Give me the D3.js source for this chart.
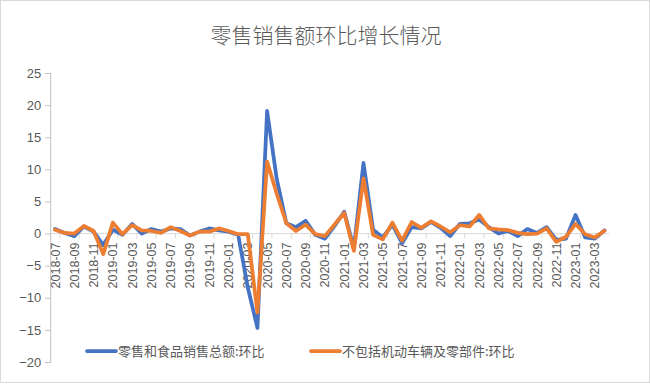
<!DOCTYPE html>
<html>
<head>
<meta charset="utf-8">
<script src="https://cdn.jsdelivr.net/npm/d3@7"></script>
<style>
  body { margin: 0; background: #fff; }
  svg { display: block; font-family: "Noto Sans CJK SC", "DejaVu Sans", sans-serif; }
</style>
</head>
<body>
<svg id="chart" width="650" height="384"></svg>
<script>
// month categories
const months = [
  "2018-07","2018-08","2018-09","2018-10","2018-11","2018-12",
  "2019-01","2019-02","2019-03","2019-04","2019-05","2019-06","2019-07","2019-08","2019-09","2019-10","2019-11","2019-12",
  "2020-01","2020-02","2020-03","2020-04","2020-05","2020-06","2020-07","2020-08","2020-09","2020-10","2020-11","2020-12",
  "2021-01","2021-02","2021-03","2021-04","2021-05","2021-06","2021-07","2021-08","2021-09","2021-10","2021-11","2021-12",
  "2022-01","2022-02","2022-03","2022-04","2022-05","2022-06","2022-07","2022-08","2022-09","2022-10","2022-11","2022-12",
  "2023-01","2023-02","2023-03","2023-04"
];
// 零售和食品销售总额:环比
const totalSales = [
  0.7, 0.1, -0.4, 1.1, 0.3, -1.8,
  0.6, -0.2, 1.5, 0.0, 0.7, 0.3, 0.8, 0.7, -0.3, 0.3, 0.8, 0.5,
  0.3, -0.2, -8.4, -14.7, 19.1, 8.5, 1.6, 1.0, 2.0, -0.2, -0.8, 1.2,
  3.4, -2.3, 11.0, 0.6, -0.6, 1.4, -1.5, 1.0, 0.8, 1.8, 0.9, -0.4,
  1.5, 1.6, 2.2, 1.0, 0.0, 0.4, -0.4, 0.7, 0.1, 1.0, -1.0, -0.8,
  2.9, -0.6, -0.8, 0.5
];
// 不包括机动车辆及零部件:环比
const exAuto = [
  0.6, 0.1, 0.0, 1.2, 0.4, -3.2,
  1.7, -0.1, 1.3, 0.5, 0.4, 0.1, 1.0, 0.4, -0.3, 0.3, 0.3, 0.8,
  0.4, -0.1, -0.1, -12.3, 11.2, 6.2, 1.6, 0.4, 1.4, -0.1, -0.4, 1.4,
  3.2, -2.7, 8.6, -0.2, -0.9, 1.7, -1.1, 1.8, 0.9, 1.9, 1.1, 0.2,
  1.3, 1.1, 2.9, 0.8, 0.65, 0.55, 0.1, -0.1, 0.0, 0.8, -1.3, -0.5,
  1.5, -0.1, -0.6, 0.45
];
const yTicks = [25, 20, 15, 10, 5, 0, -5, -10, -15, -20];
const seriesNames = ["零售和食品销售总额:环比", "不包括机动车辆及零部件:环比"];
const colors = ["#4472C4", "#ED7D31"];

const svg = d3.select("#chart");
const width = 650, height = 384;
const plotLeft = 50.2, plotRight = 609.3, plotTop = 73, plotBottom = 362;
const textColor = "#595959";

// chart border
svg.append("rect")
  .attr("x", 0.5).attr("y", 0.5)
  .attr("width", width - 1).attr("height", height - 2)
  .attr("fill", "#fff").attr("stroke", "#d9d9d9");

const x = d3.scaleBand().domain(months).range([plotLeft, plotRight]).padding(0);
const y = d3.scaleLinear().domain([-20, 25]).range([plotBottom, plotTop]);
const cx = d => x(d) + x.bandwidth() / 2;

// title
svg.append("text")
  .attr("x", 326).attr("y", 43)
  .attr("text-anchor", "middle")
  .attr("fill", textColor)
  .style("font-size", "21px")
  .style("font-weight", "300")
  .text("零售销售额环比增长情况");

// y axis
const yAxis = svg.append("g")
  .attr("transform", "translate(" + plotLeft + ",0)")
  .call(d3.axisLeft(y).tickValues(yTicks).tickSize(5).tickPadding(4));
yAxis.select(".domain").attr("stroke", "#bfbfbf");
yAxis.selectAll(".tick line").attr("stroke", "#bfbfbf");
yAxis.selectAll(".tick text")
  .attr("fill", textColor)
  .style("font-size", "13px")
  .style("font-family", "'Liberation Sans', 'DejaVu Sans', sans-serif");

// x axis on zero line
const xAxis = svg.append("g").attr("transform", "translate(0," + y(0) + ")");
xAxis.append("line")
  .attr("x1", plotLeft).attr("x2", plotRight)
  .attr("stroke", "#d9d9d9");
xAxis.selectAll(".xtick")
  .data(months.filter((d, i) => i % 2 === 0))
  .enter().append("line")
  .attr("x1", d => x(d) + x.bandwidth()).attr("x2", d => x(d) + x.bandwidth())
  .attr("y1", 0).attr("y2", 5)
  .attr("stroke", "#d9d9d9");
xAxis.selectAll(".xlabel")
  .data(months.filter((d, i) => i % 2 === 0))
  .enter().append("text")
  .attr("transform", d => "translate(" + (cx(d) + 4.5) + ",9) rotate(-90)")
  .attr("text-anchor", "end")
  .attr("fill", textColor)
  .style("font-size", "12.5px")
  .style("font-family", "'Liberation Sans', 'DejaVu Sans', sans-serif")
  .text(d => d);

// lines
const line = d3.line()
  .x((d, i) => cx(months[i]))
  .y(d => y(d));
[totalSales, exAuto].forEach((s, k) => {
  svg.append("path")
    .datum(s)
    .attr("d", line)
    .attr("fill", "none")
    .attr("stroke", colors[k])
    .attr("stroke-width", 3.75)
    .attr("stroke-linejoin", "round")
    .attr("stroke-linecap", "round");
});

// legend
const legendX = [87, 311];
const legend = svg.append("g").attr("transform", "translate(0,351)");
seriesNames.forEach((name, k) => {
  legend.append("line")
    .attr("x1", legendX[k]).attr("x2", legendX[k] + 29)
    .attr("stroke", colors[k]).attr("stroke-width", 3.75)
    .attr("stroke-linecap", "round");
  legend.append("text")
    .attr("x", legendX[k] + 31).attr("y", 5)
    .attr("fill", textColor)
    .style("font-size", "13px")
    .text(name);
});
</script>
</body>
</html>
